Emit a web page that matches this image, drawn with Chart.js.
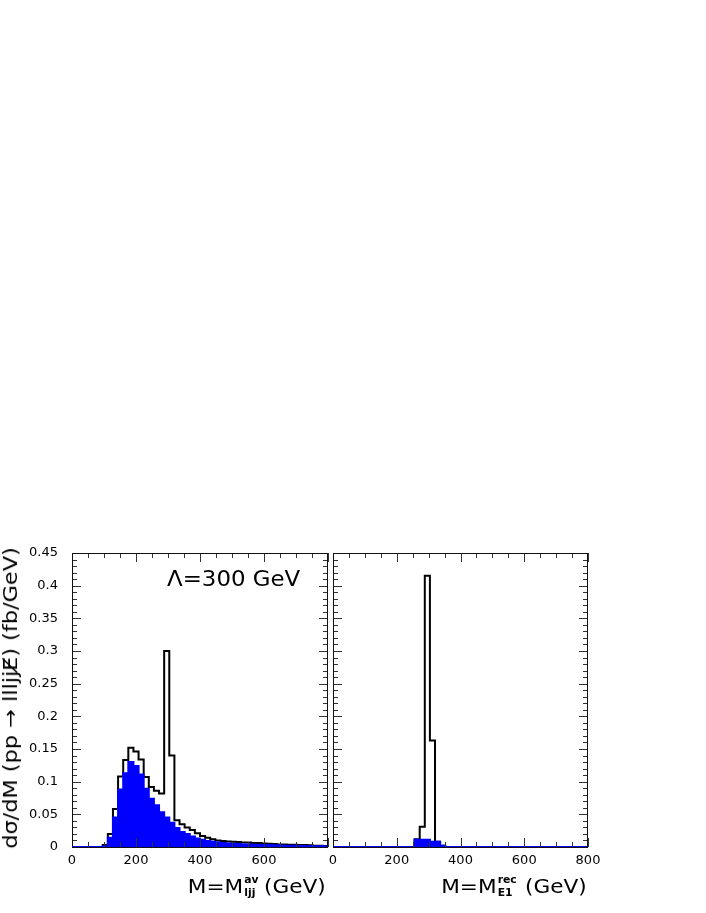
<!DOCTYPE html>
<html>
<head>
<meta charset="utf-8">
<script src="https://cdn.jsdelivr.net/npm/chart.js@4.4.1/dist/chart.umd.min.js"></script>
<style>
  html, body { margin: 0; padding: 0; background: #fff; }
  body { width: 706px; height: 913px; position: relative; overflow: hidden; font-family: 'DejaVu Sans', sans-serif; color: #000; }
  canvas { position: absolute; }
  .txt { position: absolute; white-space: nowrap; }
  .st { display: inline-block; position: relative; height: 10px; }
  .st span { position: absolute; left: 1px; font-size: 10px; line-height: 10px; font-weight: bold; }
  .st .up { top: -8px; }
  .st .dn { top: 5px; }
</style>
</head>
<body>
<canvas id="left" width="340" height="350" style="left:0;top:530px"></canvas>
<canvas id="right" width="320" height="350" style="left:300px;top:530px"></canvas>

<div class="txt" style="left:167px;top:569px;font-size:21px;line-height:21px;transform:scaleX(1.09);transform-origin:left center">Λ=300 GeV</div>
<div class="txt" style="right:380px;top:876px;font-size:20px;line-height:20px;transform:scaleX(1.08);transform-origin:right center">M=M<span class="st" style="width:13px"><span class="up">av</span><span class="dn">ljj</span></span> (GeV)</div>
<div class="txt" style="right:119px;top:876px;font-size:20px;line-height:20px;transform:scaleX(1.08);transform-origin:right center">M=M<span class="st" style="width:20px"><span class="up">rec</span><span class="dn">E1</span></span> (GeV)</div>
<div class="txt" style="left:-150px;top:688px;width:320px;height:20px;font-size:20px;line-height:20px;text-align:center;transform:rotate(-90deg) scaleX(1.12)">dσ/dM (pp → llljjE̸) (fb/GeV)</div>

<script>
// histogram binning (GeV)
const binWidth = 16;

// left panel: M = M^av_ljj
const ljjTotal = [
  0, 0, 0, 0, 0, 0, 0.003, 0.020, 0.058, 0.108,
  0.133, 0.152, 0.146, 0.134, 0.107, 0.092, 0.086, 0.082, 0.300, 0.140,
  0.041, 0.035, 0.030, 0.026, 0.021, 0.017, 0.014, 0.012, 0.010, 0.009,
  0.0085, 0.008, 0.0075, 0.007, 0.007, 0.006, 0.006, 0.0055, 0.005, 0.0045,
  0.004, 0.004, 0.0035, 0.0035, 0.003, 0.003, 0.0025, 0.002, 0.002, 0.0015
];
const ljjFilled = [
  0, 0, 0, 0, 0, 0, 0.001, 0.014, 0.045, 0.088,
  0.113, 0.130, 0.124, 0.111, 0.089, 0.074, 0.064, 0.053, 0.045, 0.037,
  0.029, 0.023, 0.020, 0.016, 0.013, 0.011, 0.009, 0.008, 0.007, 0.006,
  0.0055, 0.005, 0.0045, 0.004, 0.004, 0.0035, 0.0035, 0.003, 0.003, 0.0025,
  0.0025, 0.002, 0.002, 0.002, 0.0015, 0.0015, 0.0015, 0.001, 0.001, 0.001
];

// right panel: M = M^rec_E1
const e1Total = [
  0, 0, 0, 0, 0, 0, 0, 0, 0, 0,
  0, 0, 0, 0, 0, 0, 0.012, 0.031, 0.415, 0.163,
  0.008, 0.002, 0, 0, 0, 0, 0, 0, 0, 0,
  0, 0, 0, 0, 0, 0, 0, 0, 0, 0,
  0, 0, 0, 0, 0, 0, 0, 0, 0, 0
];
const e1Filled = [
  0, 0, 0, 0, 0, 0, 0, 0, 0, 0,
  0, 0, 0, 0, 0, 0, 0.011, 0.011, 0.011, 0.008,
  0.008, 0.002, 0, 0, 0, 0, 0, 0, 0, 0,
  0, 0, 0, 0, 0, 0, 0, 0, 0, 0,
  0, 0, 0, 0, 0, 0, 0, 0, 0, 0
];

const yTicks = [0, 0.05, 0.1, 0.15, 0.2, 0.25, 0.3, 0.35, 0.4, 0.45];
const yTickLabels = ['0', '0.05', '0.1', '0.15', '0.2', '0.25', '0.3', '0.35', '0.4', '0.45'];
const leftXTicks = [0, 200, 400, 600];
const rightXTicks = [0, 200, 400, 600, 800];

Chart.defaults.font.family = "'DejaVu Sans', sans-serif";
Chart.defaults.font.size = 13;
Chart.defaults.color = '#000';

// histogram -> step points at the lower bin edges, plus the closing edge
function steps(vals) {
  const pts = vals.map((v, i) => ({ x: i * binWidth, y: v }));
  pts.push({ x: vals.length * binWidth, y: vals[vals.length - 1] });
  return pts;
}

// ROOT-like frame with inward ticks on all four sides
const frameTicks = {
  id: 'frameTicks',
  afterDatasetsDraw(chart) {
    const { ctx, chartArea: a, scales: { x, y } } = chart;
    ctx.save();
    ctx.strokeStyle = '#333';
    ctx.lineWidth = 1;
    ctx.beginPath();
    for (let v = 0; v <= 800; v += 50) {
      const px = Math.round(x.getPixelForValue(v)) + 0.5;
      const len = v % 200 === 0 ? 9 : 5;
      ctx.moveTo(px, a.bottom); ctx.lineTo(px, a.bottom - len);
      ctx.moveTo(px, a.top); ctx.lineTo(px, a.top + len);
    }
    for (let k = 0; k <= 45; k++) {
      const py = Math.round(y.getPixelForValue(k / 100)) + 0.5;
      const len = k % 5 === 0 ? 9 : 5;
      ctx.moveTo(a.left, py); ctx.lineTo(a.left + len, py);
      ctx.moveTo(a.right, py); ctx.lineTo(a.right - len, py);
    }
    ctx.stroke();
    ctx.strokeStyle = '#111';
    ctx.strokeRect(Math.round(a.left) + 0.5, Math.round(a.top) + 0.5, Math.round(a.width) - 1, Math.round(a.height));
    ctx.restore();
  }
};

function makeChart(id, total, filled, xTicks, yAxisWidth, padRight, showY) {
  return new Chart(document.getElementById(id), {
    type: 'line',
    data: {
      datasets: [
        {
          data: steps(filled),
          stepped: true,
          fill: 'origin',
          backgroundColor: '#0000ff',
          borderColor: '#0000ff',
          borderWidth: 2,
          pointRadius: 0
        },
        {
          data: steps(total),
          stepped: true,
          fill: false,
          borderColor: '#000',
          borderWidth: 2,
          pointRadius: 0
        }
      ]
    },
    options: {
      responsive: false,
      animation: false,
      events: [],
      layout: { padding: { left: 0, top: 23, right: padRight, bottom: 0 } },
      plugins: { legend: { display: false }, tooltip: { enabled: false } },
      scales: {
        x: {
          type: 'linear',
          min: 0,
          max: 800,
          grid: { display: false, drawTicks: false },
          border: { display: false },
          afterBuildTicks: s => { s.ticks = xTicks.map(v => ({ value: v })); },
          afterFit: s => { s.height = 33; },
          ticks: { padding: 6, maxRotation: 0, callback: v => String(v) }
        },
        y: {
          min: 0,
          max: 0.45,
          grid: { display: false, drawTicks: false },
          border: { display: false },
          afterBuildTicks: s => { s.ticks = yTicks.map(v => ({ value: v })); },
          afterFit: s => { s.width = yAxisWidth; },
          ticks: { display: showY, padding: 14, callback: (v, i) => yTickLabels[i] }
        }
      }
    },
    plugins: [frameTicks]
  });
}

makeChart('left', ljjTotal, ljjFilled, leftXTicks, 72, 12, true);
makeChart('right', e1Total, e1Filled, rightXTicks, 33, 32, false);
</script>
</body>
</html>
